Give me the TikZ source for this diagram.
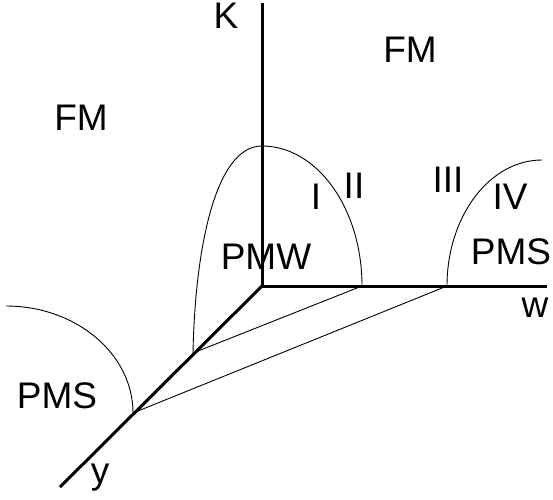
\documentclass[tikz,border=0pt]{standalone}
\usepackage{fontspec}
\setmainfont{Liberation Sans}
\begin{document}
\begin{tikzpicture}[x=1pt,y=-1pt,
  axis/.style={line width=3pt},
  thin/.style={line width=0.9pt},
  lbl/.style={inner sep=0pt,font=\fontsize{37}{40}\selectfont},
  lblb/.style={inner sep=0pt,anchor=base,font=\fontsize{37}{40}\selectfont}]
\useasboundingbox (0,0) rectangle (553,499);
% axis points
\coordinate (O) at (262,286);
\coordinate (Ktop) at (262,3);
\coordinate (Wend) at (547,286);
\coordinate (Yend) at (60,487);
\coordinate (A1) at (193,353);
\coordinate (A2) at (133,413);
\coordinate (B1) at (362,286);
\coordinate (B2) at (447,286);
\coordinate (Top) at (262,146);
\coordinate (LS) at (6,306);
\coordinate (RS) at (542,160);
% thin connecting lines
\draw[thin] (A1) -- (B1);
\draw[thin] (A2) -- (B2);
% domes
\draw[thin] (A1) .. controls (195,250) and (215,146) .. (Top);
\draw[thin] (Top) .. controls (317.2,146) and (362,208.7) .. (B1);
\draw[thin] (LS) .. controls (76.1,306) and (133,353.9) .. (A2);
\draw[thin] (B2) .. controls (447,216.4) and (489.5,160) .. (RS);
% axes
\draw[axis] (Ktop) -- (O) -- (Wend);
\draw[axis] (O) -- (Yend);
% labels
\node[lblb] (k) at (226,28) {K};
\node[lblb] (w) at (535,317) {w};
\node[lblb] (y) at (100,483) {y};
\node[lbl] (fm1) at (410,50) {FM};
\node[lbl] (fm2) at (81,118) {FM};
\node[lbl] (r1) at (316,197) {I};
\node[lbl] (r2) at (354,186) {II};
\node[lbl] (r3) at (448,180) {III};
\node[lbl] (r4) at (510,197) {IV};
\node[lbl] (pmw) at (266,257) {PMW};
\node[lbl] (pms1) at (511,252) {PMS};
\node[lbl] (pms2) at (57,396) {PMS};
\end{tikzpicture}
\end{document}
